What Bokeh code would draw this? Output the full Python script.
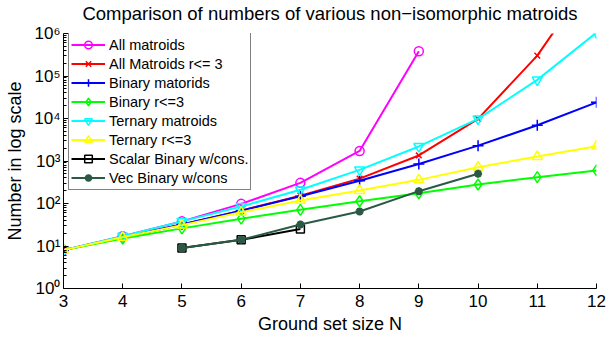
from bokeh.plotting import figure
from bokeh.models import FixedTicker, Title
from bokeh.embed import file_html
from bokeh.resources import INLINE

# ---------------- data ----------------
N_all = [3, 4, 5, 6, 7, 8, 9]
all_matroids = [8, 17, 38, 98, 306, 1724, 383172]

N_full = [3, 4, 5, 6, 7, 8, 9, 10, 11, 12]
all_r3 = [8, 16, 32, 68, 153, 385, 1350, 9800, 302000, 31000000]
binary = [8, 16, 32, 68, 148, 342, 848, 2297, 6928, 24034]
binary_r3 = [8, 15, 26, 44, 71, 113, 174, 280, 416, 600]
ternary = [8, 17, 38, 85, 210, 620, 2200, 9800, 81000, 1050000]
ternary_r3 = [8, 16, 31, 62, 118, 202, 360, 715, 1270, 2230]

N_scalar = [5, 6, 7]
scalar_binary = [9, 14, 25]
N_vec = [5, 6, 7, 8, 9, 10]
vec_binary = [9, 14, 32, 65, 195, 500]

x_ticks = [3, 4, 5, 6, 7, 8, 9, 10, 11, 12]
y_ticks = [1.0, 10.0, 100.0, 1000.0, 10000.0, 100000.0, 1000000.0]
y_tick_labels = ["10⁰", "10¹", "10²", "10³", "10⁴", "10⁵", "10⁶"]
y_minor = [m * d for d in [1, 10, 100, 1000, 10000, 100000] for m in range(2, 10)]

series = [
    ("All matroids", N_all, all_matroids, "#ff00ff", "circle", 9),
    ("All Matroids r<= 3", N_full, all_r3, "#ff0000", "x", 8),
    ("Binary matorids", N_full, binary, "#0000ff", "cross", 11),
    ("Binary r<=3", N_full, binary_r3, "#00ff00", "diamond", 11),
    ("Ternary matroids", N_full, ternary, "#00ffff", "inverted_triangle", 10),
    ("Ternary r<=3", N_full, ternary_r3, "#ffff00", "triangle", 10),
    ("Scalar Binary w/cons.", N_scalar, scalar_binary, "#000000", "square", 8),
    ("Vec Binary w/cons", N_vec, vec_binary, "#2a5a44", "asterisk", 8),
]

FONT = "Liberation Sans"

p = figure(width=608, height=339, x_range=(3, 12), y_range=(1, 1e6),
           y_axis_type="log", output_backend="svg", toolbar_location=None,
           min_border_left=63, min_border_right=12, min_border_top=33,
           min_border_bottom=51,
           title="Comparison of numbers of various non\u2212isomorphic matroids")

for label, xs, ys, col, mk, sz in series:
    p.line(xs, ys, line_color=col, line_width=2, legend_label=label)
    p.scatter(xs, ys, marker=mk, size=sz, line_color=col,
              fill_color=None, line_width=2.5 if mk == "asterisk" else 1.5,
              legend_label=label)

p.title.align = "center"
p.title.text_font = FONT
p.title.text_font_size = "18.5px"
p.title.text_font_style = "normal"
p.title.text_color = "black"
p.title.standoff = 0
p.title.vertical_align = "bottom"

# thin spacer between title and plot frame
p.add_layout(Title(text=" ", text_font_size="1px", standoff=7), "above")

p.grid.visible = False
p.outline_line_color = None

for ax in (p.xaxis, p.yaxis):
    ax.axis_line_color = "black"
    ax.major_tick_line_color = "black"
    ax.minor_tick_line_color = "black"
    ax.major_tick_in = 5
    ax.major_tick_out = 0
    ax.minor_tick_in = 3
    ax.minor_tick_out = 0
    ax.major_label_text_font = FONT
    ax.major_label_text_font_size = "17px"
    ax.major_label_text_color = "black"
    ax.axis_label_text_font = FONT
    ax.axis_label_text_font_size = "18px"
    ax.axis_label_text_font_style = "normal"
    ax.axis_label_text_color = "black"

p.xaxis.ticker = FixedTicker(ticks=x_ticks)
p.xaxis.minor_tick_line_color = None
p.xaxis.major_label_standoff = 6
p.xaxis.axis_label_standoff = 4
p.xaxis.axis_label = "Ground set size N"

p.yaxis.ticker = FixedTicker(ticks=y_ticks, minor_ticks=y_minor)
p.yaxis.major_label_overrides = dict(zip(y_ticks, y_tick_labels))
p.yaxis.major_label_standoff = 3
p.yaxis.axis_label_standoff = 6
p.yaxis.axis_label = "Number in log scale"

leg = p.legend[0]
leg.location = (5, 98)
leg.margin = 0
leg.padding = 2
leg.spacing = 0
leg.glyph_width = 34
leg.glyph_height = 19
leg.label_height = 19
leg.label_standoff = 4
leg.label_text_font = FONT
leg.label_text_font_size = "14.5px"
leg.label_text_color = "black"
leg.border_line_color = "black"
leg.border_line_width = 1
leg.background_fill_color = "white"
leg.background_fill_alpha = 1.0

open("out.html", "w").write(file_html(p, INLINE))
